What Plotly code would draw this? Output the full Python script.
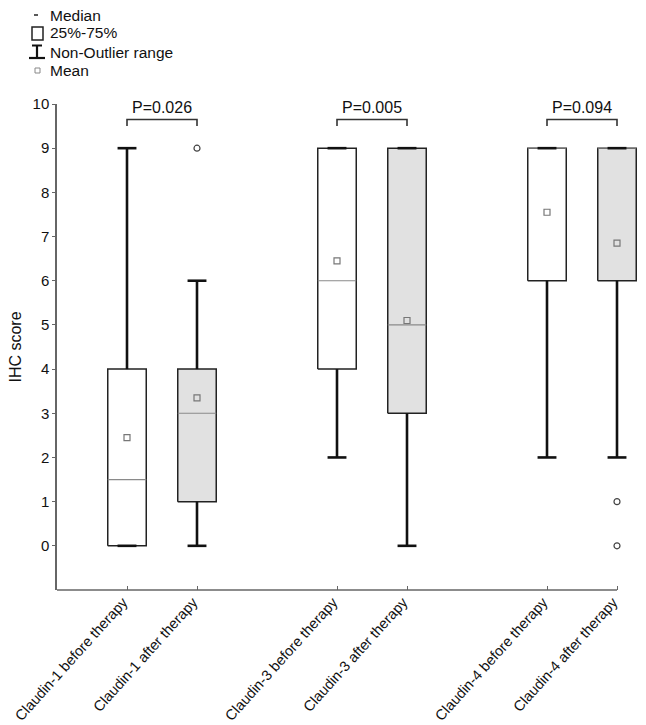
import plotly.graph_objects as go

# ---- data ----
categories = ["Claudin-1 before therapy", "Claudin-1 after therapy",
              "Claudin-3 before therapy", "Claudin-3 after therapy",
              "Claudin-4 before therapy", "Claudin-4 after therapy"]
positions = [1, 2, 4, 5, 7, 8]
q1_vals = [0, 1, 4, 3, 6, 6]
median_vals = [1.5, 3, 6, 5, 9, 9]
q3_vals = [4, 4, 9, 9, 9, 9]
lower_vals = [0, 0, 2, 0, 2, 2]
upper_vals = [9, 6, 9, 9, 9, 9]
mean_vals = [2.45, 3.35, 6.45, 5.1, 7.55, 6.85]
after_therapy = [False, True, False, True, False, True]
outlier_x = [2, 8, 8]
outlier_y = [9, 1, 0]
pair_left = [1, 4, 7]
pair_right = [2, 5, 8]
p_labels = ["P=0.026", "P=0.005", "P=0.094"]
y_ticks = list(range(0, 11))

# ---- style ----
FONT = "Liberation Sans, Arial, sans-serif"
BOX_HALF = 0.275
CAP_HALF = 0.135
W, H = 646, 725
X_MAX = 8.4
ML, MT, MB = 57, 104, 135
PW = 70 * X_MAX
MR = W - ML - PW
PH = H - MT - MB


def px(x):
    return (x - ML) / PW


def py(y):
    return (H - MB - y) / PH


fig = go.Figure()

# boxes
for x, a, b, aft in zip(positions, q1_vals, q3_vals, after_therapy):
    fig.add_trace(go.Scatter(
        x=[x - BOX_HALF, x + BOX_HALF, x + BOX_HALF, x - BOX_HALF, x - BOX_HALF],
        y=[a, a, b, b, a], mode="lines", fill="toself",
        fillcolor="#e1e1e1" if aft else "white",
        line=dict(color="#222222", width=1.5), hoverinfo="skip", showlegend=False))

# medians
mx, my = [], []
for x, m in zip(positions, median_vals):
    mx += [x - BOX_HALF, x + BOX_HALF, None]
    my += [m, m, None]
fig.add_trace(go.Scatter(x=mx, y=my, mode="lines",
                         line=dict(color="#8a8a8a", width=1.2), showlegend=False, hoverinfo="skip"))

# whiskers
wx, wy = [], []
for x, a, b, lo, hi in zip(positions, q1_vals, q3_vals, lower_vals, upper_vals):
    wx += [x, x, None, x, x, None]
    wy += [b, hi, None, a, lo, None]
    wx += [x - CAP_HALF, x + CAP_HALF, None, x - CAP_HALF, x + CAP_HALF, None]
    wy += [hi, hi, None, lo, lo, None]
fig.add_trace(go.Scatter(x=wx, y=wy, mode="lines",
                         line=dict(color="#111111", width=2.6), showlegend=False, hoverinfo="skip"))

# means
fig.add_trace(go.Scatter(x=positions, y=mean_vals, mode="markers",
                         marker=dict(symbol="square-open", size=6, color="#777777",
                                     line=dict(width=1.2)), showlegend=False))
# outliers
fig.add_trace(go.Scatter(x=outlier_x, y=outlier_y, mode="markers",
                         marker=dict(symbol="circle-open", size=6, color="#444444",
                                     line=dict(width=1.2)), showlegend=False))

# significance brackets
bx, by = [], []
for l, r in zip(pair_left, pair_right):
    bx += [l, l, r, r, None]
    by += [9.5, 9.65, 9.65, 9.5, None]
fig.add_trace(go.Scatter(x=bx, y=by, mode="lines",
                         line=dict(color="#333333", width=1.6), showlegend=False, hoverinfo="skip"))
for l, r, t in zip(pair_left, pair_right, p_labels):
    fig.add_annotation(x=(l + r) / 2, y=9.93, text=t, showarrow=False,
                       font=dict(family=FONT, size=16, color="#111111"),
                       xanchor="center", yanchor="middle")

# legend (drawn manually)
leg_items = [("Median", 15), ("25%-75%", 33), ("Non-Outlier range", 52), ("Mean", 70)]
for txt, yy in leg_items:
    fig.add_annotation(xref="paper", yref="paper", x=px(48), y=py(yy), text=txt,
                       showarrow=False, xanchor="left", yanchor="middle",
                       font=dict(family=FONT, size=15.5, color="#111111"))
shapes = [
    dict(type="line", xref="paper", yref="paper", x0=px(34), x1=px(38), y0=py(15), y1=py(15),
         line=dict(color="#222", width=1.5)),
    dict(type="rect", xref="paper", yref="paper", x0=px(32), x1=px(43), y0=py(27), y1=py(40),
         line=dict(color="#222", width=1.5)),
    dict(type="line", xref="paper", yref="paper", x0=px(37), x1=px(37), y0=py(45), y1=py(58),
         line=dict(color="#111", width=2.2)),
    dict(type="line", xref="paper", yref="paper", x0=px(32), x1=px(42), y0=py(45.5), y1=py(45.5),
         line=dict(color="#111", width=2)),
    dict(type="line", xref="paper", yref="paper", x0=px(29), x1=px(45), y0=py(58), y1=py(58),
         line=dict(color="#111", width=2.2)),
    dict(type="rect", xref="paper", yref="paper", x0=px(35), x1=px(40), y0=py(68), y1=py(73),
         line=dict(color="#888", width=1)),
    # x axis baseline ending at the last category
    dict(type="line", xref="x", yref="paper", x0=0, x1=positions[-1], y0=0, y1=0,
         line=dict(color="#666666", width=1.5)),
]

fig.update_layout(
    width=W, height=H, margin=dict(l=ML, r=MR, t=MT, b=MB, autoexpand=False),
    plot_bgcolor="white", paper_bgcolor="white", shapes=shapes,
    font=dict(family=FONT, size=14.5, color="#111111"),
    xaxis=dict(range=[0, X_MAX], tickvals=positions, ticktext=categories, tickangle=-48,
               showgrid=False, zeroline=False, showline=False, automargin=False,
               ticks="inside", ticklen=4, tickcolor="#666666", ticklabelshift=-4,
               tickfont=dict(family=FONT, size=14.5)),
    yaxis=dict(range=[-1, 10], tickvals=y_ticks, showgrid=False, zeroline=False,
               showline=True, linecolor="#666666", linewidth=1.5, automargin=False,
               ticks="outside", ticklen=3, tickcolor="#666666",
               tickfont=dict(family=FONT, size=15),
               title=dict(text="IHC score", font=dict(family=FONT, size=16), standoff=7)),
)

fig.write_html("out.html", config={"displayModeBar": False},
               post_script="document.body.style.margin='0';")
